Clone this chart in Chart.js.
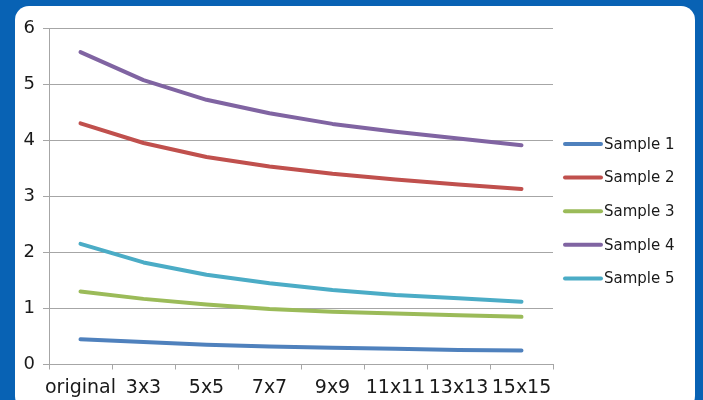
<!DOCTYPE html>
<html>
<head>
<meta charset="utf-8">
<script src="https://cdn.jsdelivr.net/npm/chart.js@4.4.1/dist/chart.umd.min.js"></script>
<style>
  body { margin: 0; background: #0862b4; overflow: hidden; width: 703px; height: 400px; }
  #panel { position: absolute; left: 15px; top: 6px; width: 680px; height: 404px; background: #fff; border-radius: 14px; }
  #myChart { position: absolute; left: 0; top: 0; }
</style>
</head>
<body>
<div id="panel"></div>
<canvas id="myChart" width="703" height="400"></canvas>
<script>
const categories = ["original", "3x3", "5x5", "7x7", "9x9", "11x11", "13x13", "15x15"];
const sample1 = [0.45, 0.40, 0.35, 0.32, 0.30, 0.28, 0.26, 0.25];
const sample2 = [4.30, 3.95, 3.70, 3.53, 3.40, 3.30, 3.21, 3.13];
const sample3 = [1.30, 1.17, 1.07, 0.99, 0.94, 0.91, 0.88, 0.85];
const sample4 = [5.57, 5.07, 4.72, 4.48, 4.29, 4.15, 4.03, 3.91];
const sample5 = [2.15, 1.82, 1.60, 1.45, 1.33, 1.24, 1.18, 1.12];
const seriesNames = ["Sample 1", "Sample 2", "Sample 3", "Sample 4", "Sample 5"];
const yMin = 0, yMax = 6, yStep = 1;

const colors = ["#4f81bd", "#c0504d", "#9bbb59", "#8064a2", "#4bacc6"];
const allSeries = [sample1, sample2, sample3, sample4, sample5];

// legend drawn by hand, so it can sit where the original one sits
const sideLegend = {
  id: "sideLegend",
  afterDraw(chart) {
    const ctx = chart.ctx;
    ctx.save();
    ctx.font = "15px 'DejaVu Sans'";
    ctx.textBaseline = "middle";
    ctx.fillStyle = "#1a1a1a";
    chart.data.datasets.forEach((ds, i) => {
      let y = 144 + i * 33.6;
      ctx.beginPath();
      ctx.strokeStyle = ds.borderColor;
      ctx.lineWidth = 4;
      ctx.lineCap = "round";
      ctx.moveTo(565, y);
      ctx.lineTo(601, y);
      ctx.stroke();
      ctx.fillText(ds.label, 604, y + 1);
    });
    ctx.restore();
  }
};

const ctx = document.getElementById("myChart");

new Chart(ctx, {
  type: "line",
  data: {
    labels: categories,
    datasets: allSeries.map((vals, i) => ({
      label: seriesNames[i],
      data: vals,
      borderColor: colors[i],
      backgroundColor: colors[i],
      borderWidth: 4,
      borderCapStyle: "round",
      borderJoinStyle: "round",
      pointRadius: 0,
      tension: 0,
    })),
  },
  options: {
    responsive: false,
    animation: false,
    devicePixelRatio: 1,
    layout: { padding: { top: 28, right: 150, left: 0, bottom: 0 } },
    plugins: {
      legend: { display: false },
      tooltip: { enabled: false },
    },
    scales: {
      x: {
        offset: true,
        grid: {
          offset: true,
          drawOnChartArea: false,
          drawTicks: true,
          tickLength: 5,
          color: "#a6a6a6",
        },
        border: { color: "#a6a6a6", width: 1 },
        ticks: {
          autoSkip: false,
          maxRotation: 0,
          minRotation: 0,
          padding: 7,
          color: "#1a1a1a",
          font: { family: "'DejaVu Sans'", size: 19 },
        },
        afterFit(scale) { scale.height = 35.5; },
      },
      y: {
        min: yMin,
        max: yMax,
        ticks: {
          stepSize: yStep,
          padding: 8,
          color: "#1a1a1a",
          font: { family: "'DejaVu Sans'", size: 18 },
        },
        grid: { color: "#a6a6a6", tickLength: 6 },
        border: { color: "#a6a6a6", width: 1 },
        afterFit(scale) { scale.width = 49; },
      },
    },
  },
  plugins: [sideLegend],
});
</script>
</body>
</html>
